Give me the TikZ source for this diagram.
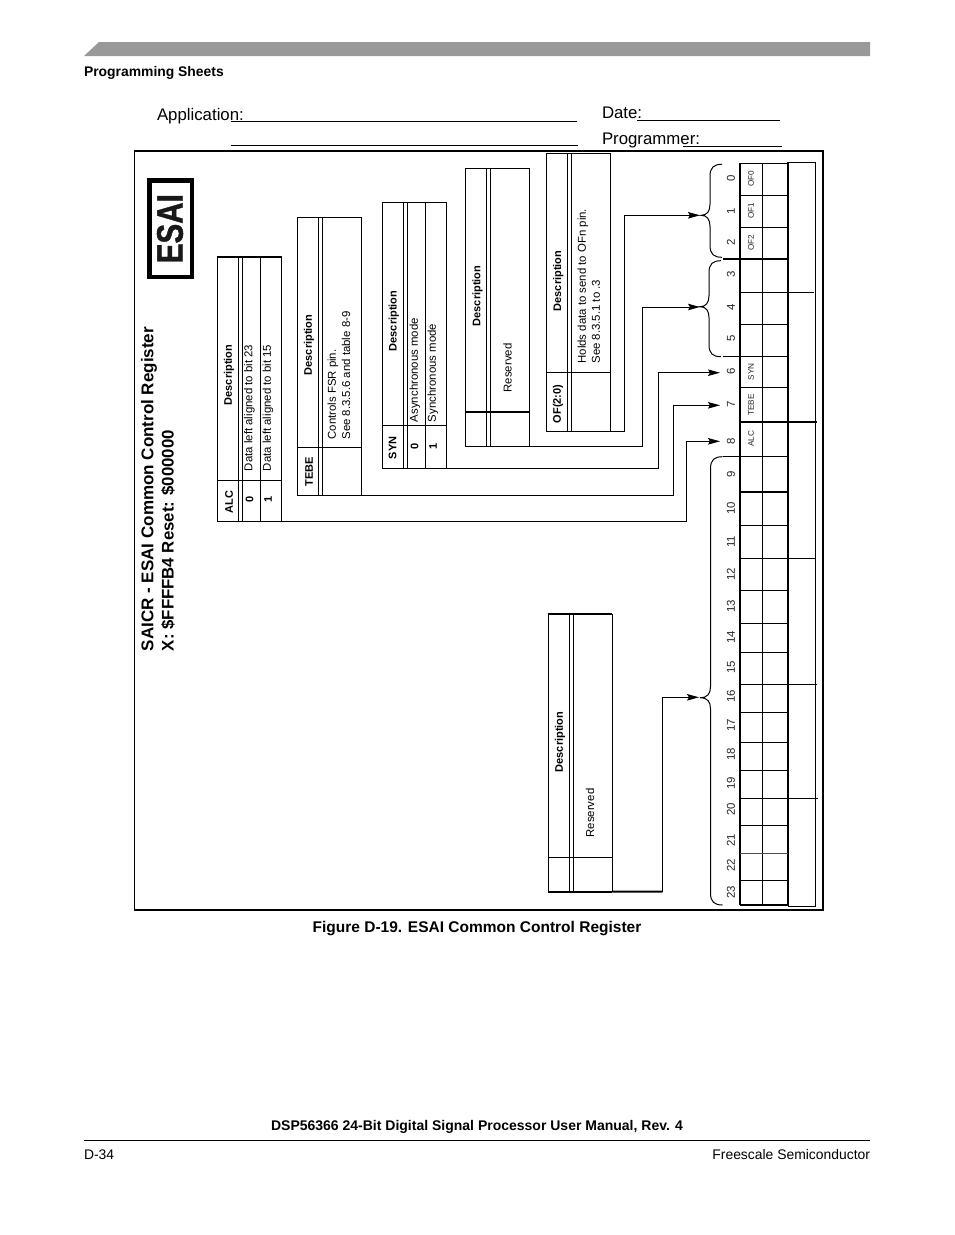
\documentclass[tikz,border=0pt]{standalone}
\usepackage{fontspec}
\usepackage{graphicx}
\setmainfont{Liberation Sans}
\newfontfamily\esaifont[FakeBold=1.2]{Liberation Sans Bold}
\usetikzlibrary{arrows.meta}
\newcommand{\fs}[1]{\fontsize{#1}{#1}\selectfont}
\newcommand{\regbrace}[5]{% top, mid, bottom, spine x, tip x
  \draw[bracel] (#4+12,#1) .. controls (#4+4,#1) and (#4,#1+3) .. (#4,#1+12)
    -- (#4,#2-11) .. controls (#4,#2-4) and (#4-3,#2) .. (#5,#2)
    .. controls (#4-3,#2) and (#4,#2+4) .. (#4,#2+11)
    -- (#4,#3-12) .. controls (#4,#3-3) and (#4+4,#3) .. (#4+12,#3);}
\tikzset{
  x=1pt,y=-1pt,
  tbl/.style={draw=black,line width=1pt,inner sep=0pt,outer sep=0pt,anchor=north west,fill=none},
  thin1/.style={line width=1pt,draw=black},
  bracel/.style={line width=1pt,draw=black},
  arr/.style={line width=1pt,draw=black,-{Stealth[length=12pt,width=6.5pt,inset=2pt]}},
  rot/.style={rotate=90,inner sep=0pt,outer sep=0pt,text=black},
  lbl/.style={rot,font=\fs{11.4}},
  bld/.style={rot,font=\fs{11}\bfseries},
  bitn/.style={rot,font=\fs{11.4},text=black!85},
  regl/.style={rot,font=\fs{8.2},text=black!85},
  plain/.style={inner sep=0pt,outer sep=0pt,text=black},
}
\begin{document}
\begin{tikzpicture}
\useasboundingbox (0,0) rectangle (954,1235);
\fill[white] (0,0) rectangle (954,1235);
% page furniture
\fill[black!40] (84,56) -- (99,42) -- (870,42) -- (870,56) -- cycle;
\node[plain,anchor=base west,font=\fs{13.9}\bfseries] (sheet) at (84,76) {Programming Sheets};
\node[plain,anchor=base west,font=\fs{16.8}] (app) at (157,120.5) {Application:};
\node[plain,anchor=base west,font=\fs{16.8}] (date) at (602,118.5) {Date:};
\node[plain,anchor=base west,font=\fs{16.8}] (prog) at (602,144.5) {Programmer:};
\draw[line width=1pt] (231,121) -- (577,121);
\draw[line width=1pt] (231,145.3) -- (578,145.3);
\draw[line width=1pt] (637,120.3) -- (780,120.3);
\draw[line width=1pt] (683,146.3) -- (782,146.3);
\node[plain,anchor=base,font=\fs{15.5}\bfseries] (cap) at (477,932.5) {Figure D-19. ESAI Common Control Register};
\node[plain,anchor=base,font=\fs{14}\bfseries] (foot) at (477,1130) {DSP56366 24-Bit Digital Signal Processor User Manual, Rev. 4};
\draw[line width=.8pt] (84,1140) -- (870,1140);
\node[plain,anchor=base west,font=\fs{13.9}] (pg) at (84,1159) {D-34};
\node[plain,anchor=base east,font=\fs{13.9}] (fsl) at (870,1159) {Freescale Semiconductor};
% frame
\draw[line width=1.3pt] (134.5,150.5) rectangle (823,910);
\draw[line width=2pt] (134,150.5) -- (823.5,150.5);
\draw[line width=1.8pt] (823,150) -- (823,910);
% title
\node[draw,line width=4.4pt,minimum width=42.6pt,minimum height=96.6pt,inner sep=0pt,outer sep=0pt] (esaibox) at (170.8,228.8) {};
\node[rot,font=\fs{37}\esaifont,text=black!90] (esai) at (170,228.7) {\scalebox{.8}[1]{ESAI}};
\node[rot,anchor=west,font=\fs{17}\bfseries] (t1) at (149,651) {SAICR - ESAI Common Control Register};
\node[rot,anchor=west,font=\fs{16.8}\bfseries] (t2) at (168,651) {X: \$FFFFB4 Reset: \$000000};
% ALC table
\node[tbl,minimum width=64.4pt,minimum height=265pt] (alc) at (217.3,256.7) {};
\draw[line width=2pt] (alc.north west) -- (alc.north east);
\draw[thin1] (238.3,256.7) -- (238.3,521.7) (242.3,256.7) -- (242.3,521.7) (260.7,256.7) -- (260.7,521.7) (217.3,480.3) -- (281.7,480.3);
\node[bld] (alcn) at (229,502) {ALC};
\node[bld] (alcd) at (229,375) {Description};
\node[bld] (alc0) at (249.5,499) {0};
\node[bld] (alc1) at (268,499) {1};
\node[lbl,anchor=west] (alct0) at (249.5,471) {Data left aligned to bit 23};
\node[lbl,anchor=west] (alct1) at (268,471) {Data left aligned to bit 15};
% TEBE table
\node[tbl,minimum width=64.3pt,minimum height=277.3pt] (tebe) at (297,217.7) {};
\draw[thin1] (318.3,217.7) -- (318.3,495) (322.3,217.7) -- (322.3,495) (297,447) -- (361.3,447);
\node[bld] (teben) at (309,472) {TEBE};
\node[bld] (tebed) at (309,345) {Description};
\node[lbl,anchor=west] (tebet0) at (333,439.5) {Controls FSR pin.};
\node[lbl,anchor=west] (tebet1) at (346,439.5) {See 8.3.5.6 and table 8-9};
% SYN table
\node[tbl,minimum width=64.4pt,minimum height=266pt] (syn) at (382.3,202.3) {};
\draw[thin1] (403.5,202.3) -- (403.5,468.3) (407.5,202.3) -- (407.5,468.3) (425.7,202.3) -- (425.7,468.3) (382.3,425.7) -- (446.7,425.7);
\node[bld] (synn) at (392.7,448) {SYN};
\node[bld] (synd) at (393.7,321) {Description};
\node[bld] (syn0) at (414.5,446) {0};
\node[bld] (syn1) at (433,446) {1};
\node[lbl,anchor=west] (synt0) at (415,422) {Asynchronous mode};
\node[lbl,anchor=west] (synt1) at (433,422) {Synchronous mode};
% Reserved table
\node[tbl,minimum width=64pt,minimum height=278pt] (res) at (465.3,168.3) {};
\draw[thin1] (486.7,168.3) -- (486.7,446.3) (490.3,168.3) -- (490.3,446.3);
\draw[line width=1.8pt] (465.3,412) -- (529.3,412);
\node[bld] (resd) at (477.5,296) {Description};
\node[lbl] (rest) at (507.5,368) {Reserved};
% OF table
\node[tbl,minimum width=64.7pt,minimum height=278.4pt] (of) at (546,153.3) {};
\draw[thin1] (567.3,153.3) -- (567.3,431.7) (571.3,153.3) -- (571.3,431.7) (546,372.3) -- (610.7,372.3);
\node[bld] (ofn) at (558,404) {OF(2:0)};
\node[bld] (ofd) at (558.3,281) {Description};
\node[lbl,anchor=west] (oft0) at (583,363.5) {Holds data to send to OFn pin.};
\node[lbl,anchor=west] (oft1) at (596,363.5) {See 8.3.5.1 to .3};
% bottom Reserved table
\node[tbl,minimum width=64pt,minimum height=277.7pt] (res2) at (548.3,614) {};
\draw[line width=2pt] (res2.north west) -- (res2.north east);
\draw[line width=2pt] (res2.south west) -- (res2.south east);
\draw[thin1] (569.3,614) -- (569.3,891.7) (573.3,614) -- (573.3,891.7) (548.3,857.3) -- (612.3,857.3);
\node[bld] (res2d) at (560,742) {Description};
\node[lbl] (res2t) at (590,813) {Reserved};
% register grid
\draw[line width=1.8pt] (740,163.3) -- (740,905.3);
\draw[thin1] (762.5,163.3) -- (762.5,905.3);
\draw[line width=2.2pt] (787.7,162) -- (787.7,906);
\draw[thin1] (787.7,162.3) -- (815.5,162.3) -- (815.5,906) -- (787.7,906);
\draw[thin1] (740,163.5) -- (787.7,163.5);
\draw[line width=1.8pt] (740,905.3) -- (787.7,905.3);
\foreach \yy in {195.3,227.3,292,324.3,387.7,525.3,590.3,623.3,652,712.3,742.3,770.3,825.3,880.3}
  \draw[thin1] (740,\yy) -- (787.7,\yy);
\draw[thin1,draw=black!70] (740,853.3) -- (787.7,853.3);
\draw[line width=1.8pt] (723,259.3) -- (787.7,259.3);
\draw[thin1] (787.7,292) -- (813.5,292);
\draw[thin1] (723,356.7) -- (787.7,356.7);
\draw[line width=1.8pt] (740,421.7) -- (816.7,421.7);
\draw[thin1] (723,456.3) -- (787.7,456.3);
\draw[line width=1.8pt] (740,491.7) -- (787.7,491.7);
\draw[thin1] (740,558.3) -- (815.5,558.3);
\draw[thin1] (740,684.3) -- (816.7,684.3);
\draw[thin1] (740,798.3) -- (817.7,798.3);
% bit numbers
\foreach \n/\yy in {0/178,1/211,2/242,3/274,4/307,5/338,6/371,7/404,8/441,9/474,10/508,11/542,12/574,13/606,14/637,15/667,16/696,17/725,18/754,19/783,20/809,21/840,22/865,23/892}
  \node[bitn] (bit\n) at (731,\yy) {\n};
\node[regl] (rof0) at (751,179) {OF0};
\node[regl] (rof1) at (751,211) {OF1};
\node[regl] (rof2) at (751,243) {OF2};
\node[regl] (rsyn) at (751,372) {SYN};
\node[regl] (rteb) at (751,405) {TEBE};
\node[regl] (ralc) at (751,439) {ALC};
% braces
\regbrace{164.3}{215.3}{257.3}{710}{701}
\regbrace{260.7}{306.7}{356.7}{709}{700}
\regbrace{456.7}{697.7}{905}{710.5}{700}
% connectors
\coordinate (tipa) at (700,215.3); \coordinate (kneea) at (624.3,215.3);
\coordinate (tipb) at (700,307);   \coordinate (kneeb) at (642,307);
\coordinate (tipc) at (720,372.7); \coordinate (kneec) at (658.7,372.7);
\coordinate (tipd) at (720,405.3); \coordinate (kneed) at (673,405.3);
\coordinate (tipe) at (720,441.3); \coordinate (kneee) at (686.3,441.3);
\coordinate (tipf) at (699,697.3); \coordinate (kneef) at (662.3,697.3);
\draw[arr] (of.south east) -| (kneea) -- (tipa);
\draw[arr] (res.south east) -| (kneeb) -- (tipb);
\draw[arr] (syn.south east) -| (kneec) -- (tipc);
\draw[arr] (tebe.south east) -| (kneed) -- (tipd);
\draw[arr] (alc.south east) -| (kneee) -- (tipe);
\draw[arr] (res2.south east) -| (kneef) -- (tipf);
\draw[line width=2pt] (res2.south east) -- (662.3,891.7);
\end{tikzpicture}
\end{document}
